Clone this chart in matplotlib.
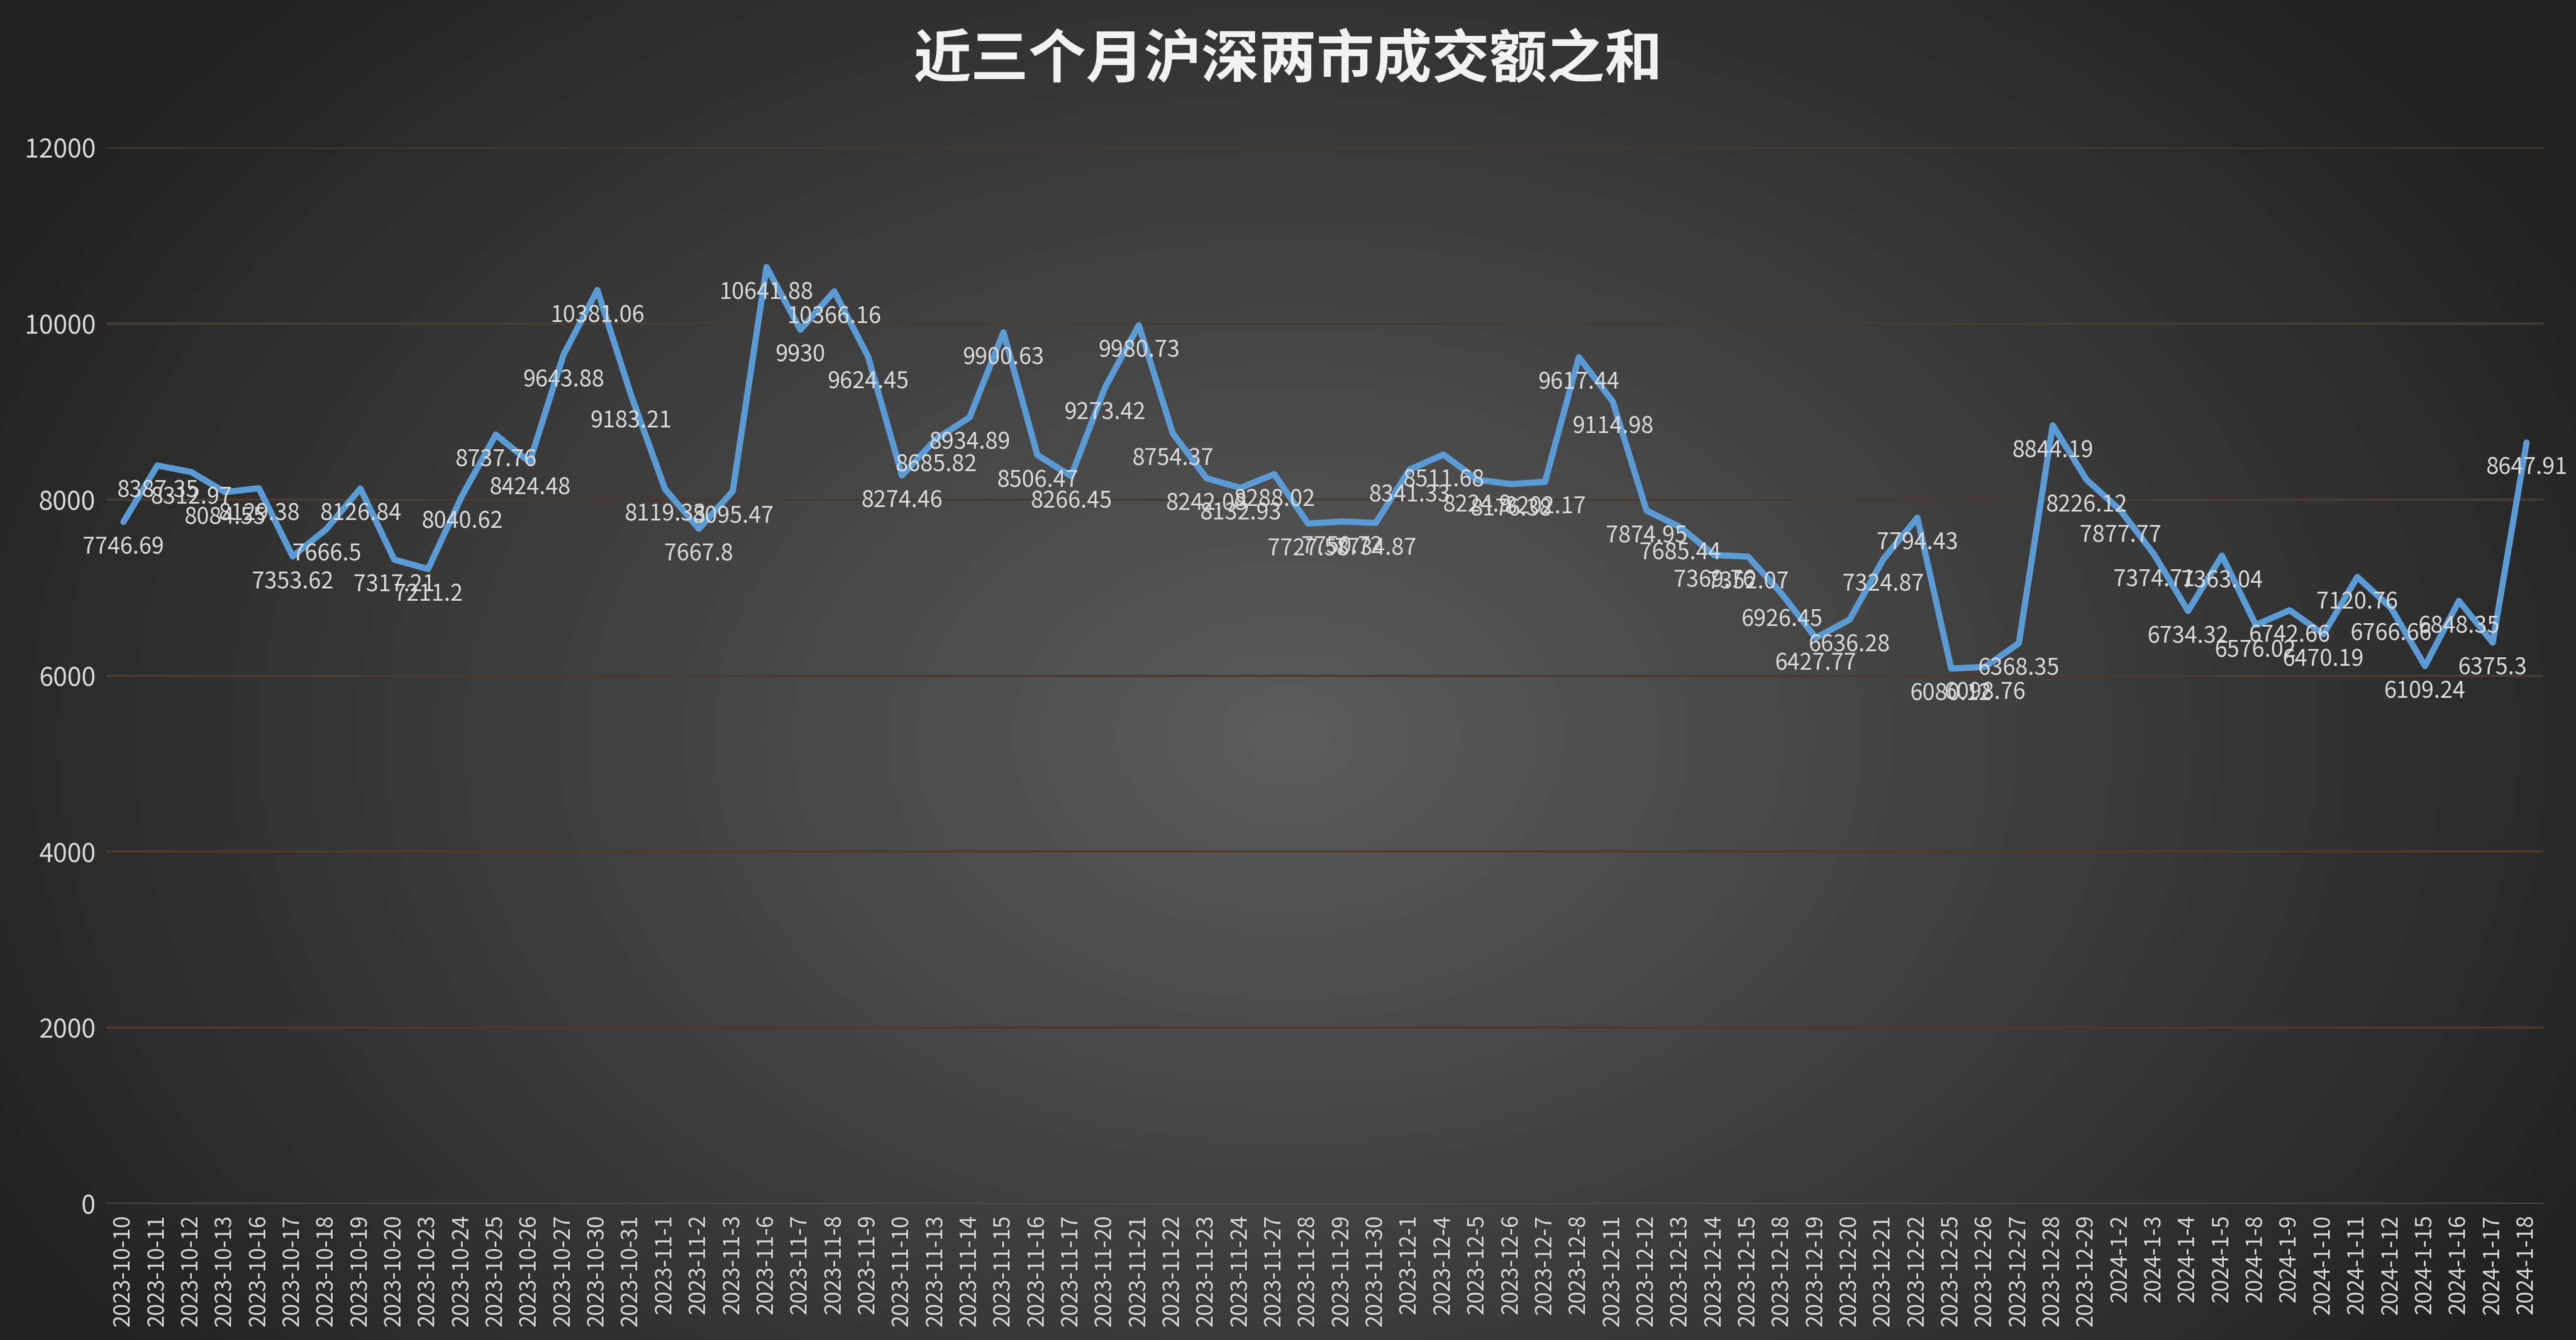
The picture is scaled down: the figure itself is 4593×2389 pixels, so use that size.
import numpy as np
import matplotlib
matplotlib.use("Agg")
import matplotlib.pyplot as plt

dates = ["2023-10-10","2023-10-11","2023-10-12","2023-10-13","2023-10-16","2023-10-17","2023-10-18","2023-10-19","2023-10-20","2023-10-23",
 "2023-10-24","2023-10-25","2023-10-26","2023-10-27","2023-10-30","2023-10-31","2023-11-1","2023-11-2","2023-11-3","2023-11-6",
 "2023-11-7","2023-11-8","2023-11-9","2023-11-10","2023-11-13","2023-11-14","2023-11-15","2023-11-16","2023-11-17","2023-11-20",
 "2023-11-21","2023-11-22","2023-11-23","2023-11-24","2023-11-27","2023-11-28","2023-11-29","2023-11-30","2023-12-1","2023-12-4",
 "2023-12-5","2023-12-6","2023-12-7","2023-12-8","2023-12-11","2023-12-12","2023-12-13","2023-12-14","2023-12-15","2023-12-18",
 "2023-12-19","2023-12-20","2023-12-21","2023-12-22","2023-12-25","2023-12-26","2023-12-27","2023-12-28","2023-12-29","2024-1-2",
 "2024-1-3","2024-1-4","2024-1-5","2024-1-8","2024-1-9","2024-1-10","2024-1-11","2024-1-12","2024-1-15","2024-1-16","2024-1-17","2024-1-18"]
values = [7746.69,8387.35,8312.97,8084.55,8129.38,7353.62,7666.5,8126.84,7317.21,7211.2,
 8040.62,8737.76,8424.48,9643.88,10381.06,9183.21,8119.33,7667.8,8095.47,10641.88,
 9930,10366.16,9624.45,8274.46,8685.82,8934.89,9900.63,8506.47,8266.45,9273.42,
 9980.73,8754.37,8242.08,8132.93,8288.02,7727.58,7750.72,7734.87,8341.33,8511.68,
 8224.9,8176.38,8202.17,9617.44,9114.98,7874.95,7685.44,7369.76,7352.07,6926.45,
 6427.77,6636.28,7324.87,7794.43,6080.12,6098.76,6368.35,8844.19,8226.12,7877.77,
 7374.71,6734.32,7363.04,6576.02,6742.66,6470.19,7120.76,6766.66,6109.24,6848.35,6375.3,8647.91]
title = "近三个月沪深两市成交额之和"
yticks = [0,2000,4000,6000,8000,10000,12000]

W, H, DPI = 4593, 2389, 100
fig = plt.figure(figsize=(W/DPI, H/DPI), dpi=DPI)
bg = fig.add_axes([0,0,1,1]); bg.set_axis_off()
yy, xx = np.mgrid[0:H:4, 0:W:4]
r = np.sqrt(((xx-W*0.5)/(W*0.55))**2 + ((yy-H*0.55)/(H*0.75))**2)
shade = np.clip(0.36 - 0.22*r, 0.13, 0.36)
bg.imshow(np.dstack([shade]*3), extent=[0,1,0,1], aspect='auto', zorder=0)
bg.set_xlim(0,1); bg.set_ylim(0,1)

def fmt(v):
    s = f"{v:.2f}".rstrip('0').rstrip('.')
    return s

fam = "Noto Sans CJK SC"
ax = fig.add_axes([190/W, 1-2146/H, (4535-190)/W, (2146-263)/H])
ax.patch.set_alpha(0)
x = np.arange(len(values))
ax.plot(x, values, color="#5b9bd5", lw=8, solid_joinstyle='round', solid_capstyle='round', zorder=3)
for xi, v in zip(x, values):
    ax.annotate(fmt(v), (xi, v), xytext=(0, -18), textcoords="offset points",
                ha="center", va="top", color="#d9d9d9", fontsize=29, family=fam, zorder=4)
ax.set_ylim(0, 12000); ax.set_xlim(-0.5, len(values)-0.5)
ax.set_yticks(yticks)
ax.set_yticklabels([str(t) for t in yticks], fontsize=33, color="#d9d9d9", family=fam)
ax.set_xticks(x)
ax.set_xticklabels(dates, rotation=90, fontsize=28, color="#d9d9d9", family=fam)
ax.grid(axis='y', color="#4d3a2e", lw=3)
ax.tick_params(length=0, pad=14)
for s in ax.spines.values(): s.set_visible(False)
ax.axhline(0, color="#595959", lw=2)
fig.text(0.5, 1-108/H, title, ha="center", va="center", fontsize=74, weight="bold",
         color="#f2f2f2", family=fam)
fig.savefig("out.png", dpi=DPI)
